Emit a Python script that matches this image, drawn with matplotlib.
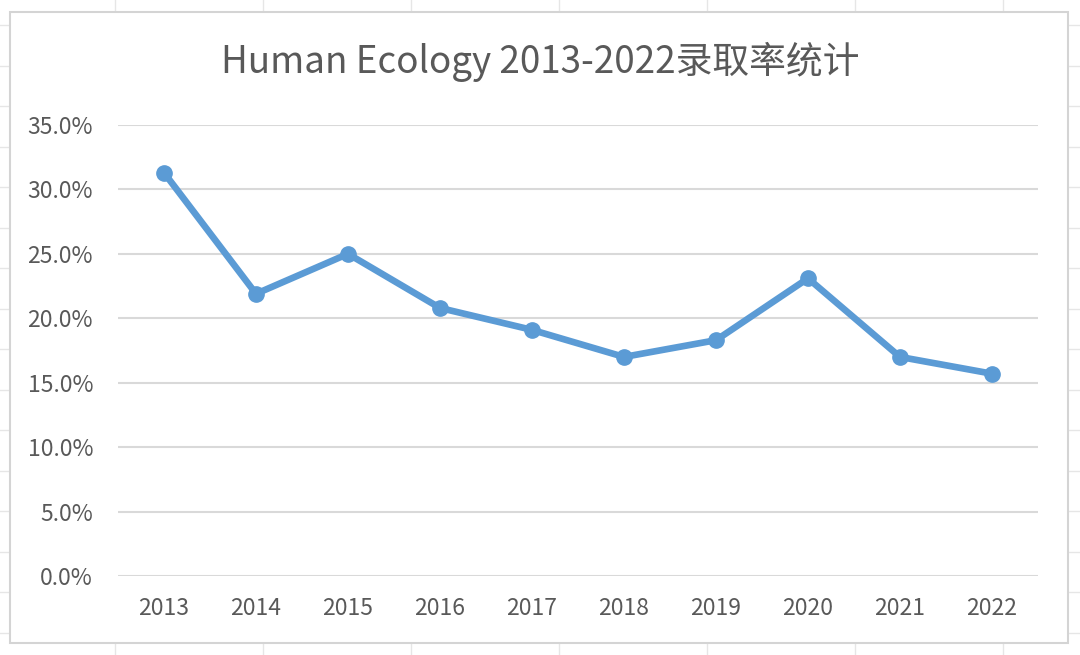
import matplotlib
matplotlib.use("Agg")
import matplotlib.pyplot as plt
from matplotlib.patches import Rectangle
import numpy as np

plt.rcParams['font.family'] = ['Noto Sans CJK SC', 'DejaVu Sans']

# admission rate by year
years = ["2013", "2014", "2015", "2016", "2017", "2018", "2019", "2020", "2021", "2022"]
rates = [0.313, 0.219, 0.250, 0.208, 0.191, 0.170, 0.183, 0.231, 0.170, 0.157]
yticks = [0.0, 0.05, 0.10, 0.15, 0.20, 0.25, 0.30, 0.35]

W, H = 1080, 655
fig = plt.figure(figsize=(W / 100, H / 100), dpi=100)

# faint spreadsheet cells behind the chart
for x in np.arange(115, W, 148):
    fig.add_artist(plt.Line2D([x / W, x / W], [0, 1], color="#e6e6e6", lw=1, zorder=-3))
for y in np.arange(25, H, 40.5):
    fig.add_artist(plt.Line2D([0, 1], [1 - y / H, 1 - y / H], color="#e6e6e6", lw=1, zorder=-3))

# chart area
fig.add_artist(Rectangle((10 / W, 1 - 643 / H), 1058 / W, 631 / H, transform=fig.transFigure,
                         facecolor="white", edgecolor="#d4d4d4", lw=1.5, zorder=-2))

ax = fig.add_axes([118 / W, 1 - 576 / H, 920 / W, 451 / H])
ax.set_zorder(1)
ax.set_facecolor("none")
x = np.arange(len(years))
ax.plot(x, rates, color="#5b9bd5", lw=4.8, marker="o", markersize=11, solid_capstyle="round")

ax.set_xlim(-0.5, len(years) - 0.5)
ax.set_ylim(0, 0.35)
ax.set_yticks(yticks)
ax.set_yticklabels(["{:.1f}%".format(v * 100) for v in yticks])
ax.set_xticks(x)
ax.set_xticklabels(years)
ax.grid(axis="y", color="#d9d9d9", lw=1.5)
ax.set_axisbelow(True)
for s in ax.spines.values():
    s.set_visible(False)
ax.tick_params(length=0, labelsize=16.5, labelcolor="#595959")
ax.tick_params(axis="y", pad=18)
ax.tick_params(axis="x", pad=15)

fig.text(540 / W, 1 - 62 / H, "Human Ecology 2013-2022录取率统计", ha="center", va="center",
         fontsize=26.5, color="#595959")

fig.savefig("out.png", dpi=100)
